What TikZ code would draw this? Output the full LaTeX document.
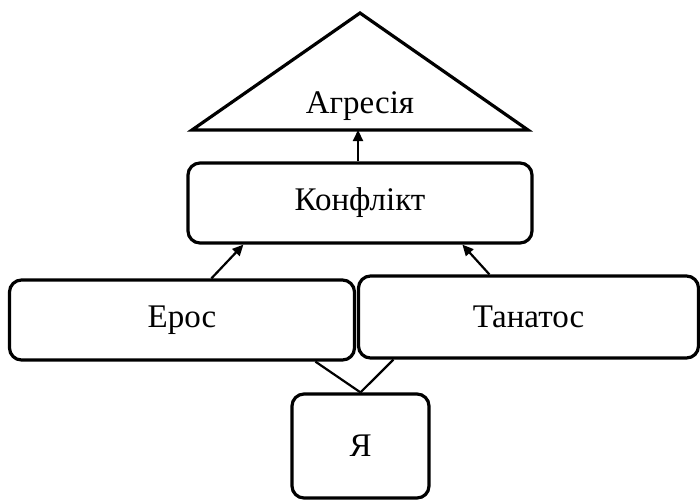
\documentclass[tikz,border=0pt]{standalone}
\usepackage{fontspec}
\setmainfont{Liberation Serif}
\usetikzlibrary{arrows.meta,calc}
\begin{document}
\begin{tikzpicture}[x=1pt,y=-1pt,
  label/.style={font=\fontsize{33}{36}\selectfont},
  box/.style={label,draw,line width=3.2pt,rounded corners=12pt,inner sep=0pt},
  link/.style={line width=2.2pt},
  arrowlink/.style={link,-{Triangle[length=11pt,width=10pt]}}]
  \useasboundingbox (0,0) rectangle (700,499);
  % top triangle
  \coordinate (apex) at (360,13);
  \coordinate (bl) at (192,130);
  \coordinate (br) at (528,130);
  \draw[line width=3.2pt,line join=miter] (bl) -- (apex) -- (br) -- cycle;
  \node[label] (agr) at (360,106) {Агресія};
  % boxes
  \node[box,minimum width=344pt,minimum height=80pt] (konf) at (360,203) {Конфлікт};
  \node[box,minimum width=345pt,minimum height=80pt] (eros) at (182,320) {Ерос};
  \node[box,minimum width=340pt,minimum height=82pt] (tan) at (528.5,317) {Танатос};
  \node[box,minimum width=137pt,minimum height=104pt] (ya) at (360.5,446) {Я};
  % connectors
  \coordinate (base) at (358,130);
  \draw[arrowlink] (konf.north -| base) -- (base);
  \draw[arrowlink] ($(eros.north west)+(203.5,0)$) -- ($(konf.south west)+(57,0)$);
  \draw[arrowlink] ($(tan.north west)+(132.5,0)$) -- ($(konf.south west)+(276,0)$);
  \draw[link] ($(eros.south west)+(307.5,0)$) -- (ya.north);
  \draw[link] ($(tan.south west)+(36.5,0)$) -- (ya.north);
\end{tikzpicture}
\end{document}
